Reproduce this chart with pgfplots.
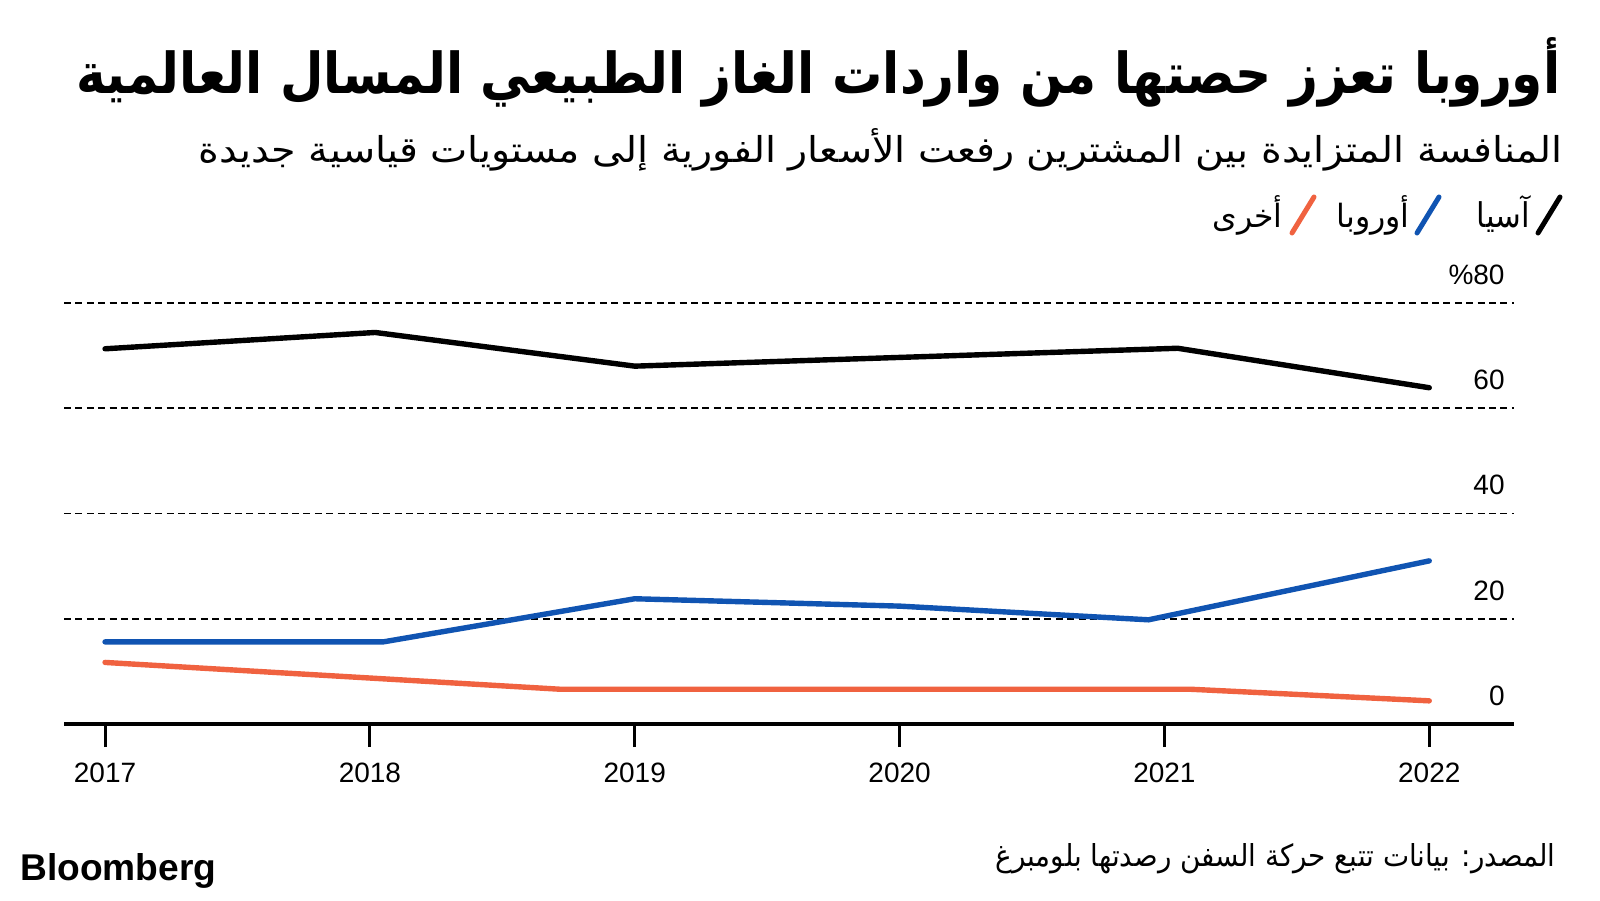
\documentclass[border=0pt]{standalone}
\usepackage{fontspec}
\usepackage{graphicx}
\usepackage{pgfplots}
\pgfplotsset{compat=1.18}
\TeXXeTstate=1
\setmainfont{Liberation Sans}
\newfontfamily\arabicfont[Script=Arabic]{DejaVu Sans}
\definecolor{bbblue}{RGB}{16,84,178}
\definecolor{bborange}{RGB}{240,98,64}

\begin{document}
\begin{tikzpicture}
\fill[white] (0,0) rectangle (800pt,450pt);
\path[use as bounding box] (0,0) rectangle (800pt,450pt);
\begin{axis}[
  at={(32pt,88pt)}, anchor=south west,
  scale only axis, width=725pt, height=210.5pt,
  xmin=2016.845, xmax=2022.32, ymin=0, ymax=80,
  clip=false,
  axis x line*=bottom, axis y line*=right,
  x axis line style={line width=2pt,-},
  y axis line style={draw=none},
  tick align=outside, major tick length=11.5pt,
  xtick={2017,2018,2019,2020,2021,2022},
  xticklabels={2017,2018,2019,2020,2021,2022},
  xtick style={line width=1.5pt, black},
  xticklabel style={font=\fontsize{14}{14}\selectfont, anchor=north, yshift=-4.5pt},
  ytick={0,20,40,60,80},
  yticklabels={0,20,40,60,\%80},
  ytick style={draw=none},
  yticklabel style={font=\fontsize{14}{14}\selectfont, anchor=south east, xshift=-16pt, yshift=9pt, inner sep=0pt},
  ymajorgrids,
  grid style={black, line width=0.9pt, dash pattern=on 3.5pt off 2.2pt},
  /pgf/number format/assume math mode=true,
]
\addplot[black, line width=2.7pt, line cap=round] coordinates {(2017,71.3)(2018.02,74.4)(2019,68.0)(2021.05,71.4)(2022,63.9)};
\addplot[bbblue, line width=2.7pt, line cap=round] coordinates {(2017,15.6)(2018.05,15.6)(2019,23.8)(2020,22.4)(2020.94,19.8)(2022,31.0)};
\addplot[bborange, line width=2.7pt, line cap=round] coordinates {(2017,11.7)(2018.72,6.6)(2021.1,6.6)(2022,4.4)};
\end{axis}
% title, subtitle
\node[anchor=base east, inner sep=0] at (780.5pt,403pt) {\resizebox{742pt}{28pt}{\arabicfont\bfseries\beginR أوروبا تعزز حصتها من واردات الغاز الطبيعي المسال العالمية\endR}};
\node[anchor=base east, inner sep=0] at (781.5pt,368.5pt) {\resizebox{682pt}{17pt}{\arabicfont\beginR المنافسة المتزايدة بين المشترين رفعت الأسعار الفورية إلى مستويات قياسية جديدة\endR}};
% legend
\draw[black, line width=2.5pt, line cap=round] (769pt,333.5pt) -- (780pt,351.5pt);
\node[anchor=base east, inner sep=0] at (765pt,336pt) {\resizebox{26.5pt}{16pt}{\arabicfont\beginR آسيا\endR}};
\draw[bbblue, line width=2.5pt, line cap=round] (708.5pt,333.5pt) -- (719.5pt,351.5pt);
\node[anchor=base east, inner sep=0] at (705pt,336pt) {\resizebox{36.5pt}{16pt}{\arabicfont\beginR أوروبا\endR}};
\draw[bborange, line width=2.5pt, line cap=round] (646pt,333.5pt) -- (657pt,351.5pt);
\node[anchor=base east, inner sep=0] at (641.5pt,336pt) {\resizebox{35pt}{16pt}{\arabicfont\beginR أخرى\endR}};
% footer
\node[anchor=base west, inner sep=0] at (10pt,10pt) {\resizebox{98pt}{13.5pt}{\bfseries Bloomberg}};
\node[anchor=base east, inner sep=0] at (778pt,17pt) {\resizebox{280pt}{11.5pt}{\arabicfont\beginR المصدر: بيانات تتبع حركة السفن رصدتها بلومبرغ\endR}};
\end{tikzpicture}
\end{document}
